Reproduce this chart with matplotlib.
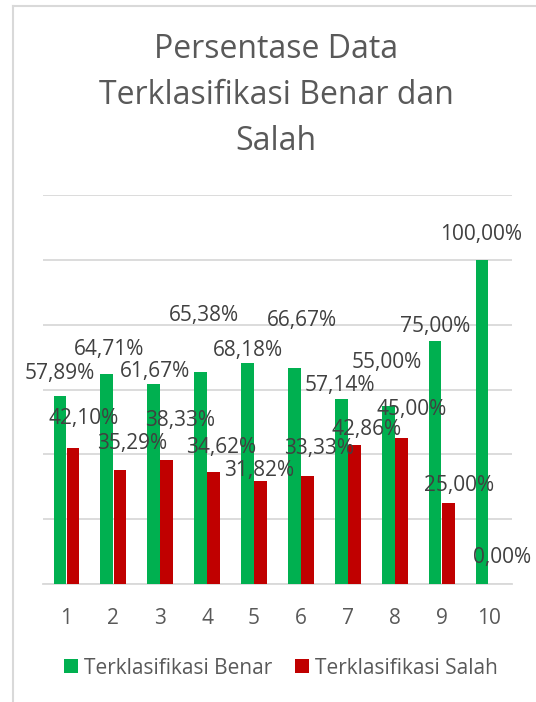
import matplotlib.pyplot as plt
from matplotlib.lines import Line2D
import numpy as np

# data
categories = ['1', '2', '3', '4', '5', '6', '7', '8', '9', '10']
benar = [57.89, 64.71, 61.67, 65.38, 68.18, 66.67, 57.14, 55.00, 75.00, 100.00]
salah = [42.10, 35.29, 38.33, 34.62, 31.82, 33.33, 42.86, 45.00, 25.00, 0.00]
series_names = ['Terklasifikasi Benar', 'Terklasifikasi Salah']
title = 'Persentase Data\nTerklasifikasi Benar dan\nSalah'

# label placement (pixel offsets from bar top, as in the source chart)
benar_dx = [0, 2, 1, 3, 0, 8, -1, -1, 0, -1]
benar_dy = [23, 25, 13, 57, 12, 47, 13, 43, 14, 25]
salah_dx = [11, 12, 13, 7, -1, 12, 12, 10, 11, 7]
salah_dy = [29, 26, 39, 24, 10, 27, 16, 29, 17, 26]

green, red = '#00B050', '#C00000'
txt_dark, txt_mid = '#404040', '#595959'
plt.rcParams['font.family'] = ['Open Sans', 'DejaVu Sans']

W, H = 536, 702
fig = plt.figure(figsize=(W / 100, H / 100), dpi=100)
ax = fig.add_axes([43 / W, (H - 584) / H, (512 - 43) / W, (584 - 195) / H])

x = np.arange(len(categories))
bw, off = 0.27, 0.139
b1 = ax.bar(x - off, benar, bw, color=green, label=series_names[0], zorder=3)
b2 = ax.bar(x + off, salah, bw, color=red, label=series_names[1], zorder=3)

fmt = lambda v: f'{v:.2f}'.replace('.', ',') + '%'
for bars, vals, dxs, dys in ((b1, benar, benar_dx, benar_dy), (b2, salah, salah_dx, salah_dy)):
    for rect, v, dx, dy in zip(bars, vals, dxs, dys):
        ax.annotate(fmt(v), (rect.get_x() + rect.get_width() / 2, v),
                    xytext=(dx, dy), textcoords='offset pixels',
                    ha='center', va='center', fontsize=15, color=txt_dark, zorder=4)

ax.set_xlim(-0.5, len(categories) - 0.5)
ax.set_ylim(0, 120)
ax.set_yticks(np.arange(0, 121, 20))
ax.yaxis.grid(True, color='#D9D9D9', linewidth=1.3, zorder=0)
ax.tick_params(axis='y', left=False, labelleft=False)
ax.set_xticks(x)
ax.set_xticklabels(categories)
ax.tick_params(axis='x', length=0, pad=17, labelsize=15, labelcolor=txt_mid)
for s in ('top', 'right', 'left'):
    ax.spines[s].set_visible(False)
ax.spines['bottom'].set_color('#D9D9D9')
ax.spines['bottom'].set_linewidth(1.3)

fig.text(276 / W, 1 - 96 / H, title, ha='center', va='center', fontsize=23,
         color=txt_mid, linespacing=1.52)

fig.legend(handles=[b1, b2], loc='center', bbox_to_anchor=(281 / W, 1 - 668 / H),
           ncol=2, frameon=False, fontsize=15, labelcolor=txt_mid,
           handlelength=0.65, handleheight=0.65, handletextpad=0.3, columnspacing=1.1)

# chart area border (left and top edges visible)
border = '#D9D9D9'
fig.add_artist(Line2D([13 / W, 13 / W], [0, 1 - 6 / H], color=border, lw=1.5))
fig.add_artist(Line2D([13 / W, 1], [1 - 6 / H, 1 - 6 / H], color=border, lw=1.5))

fig.savefig('out.png', dpi=100)
